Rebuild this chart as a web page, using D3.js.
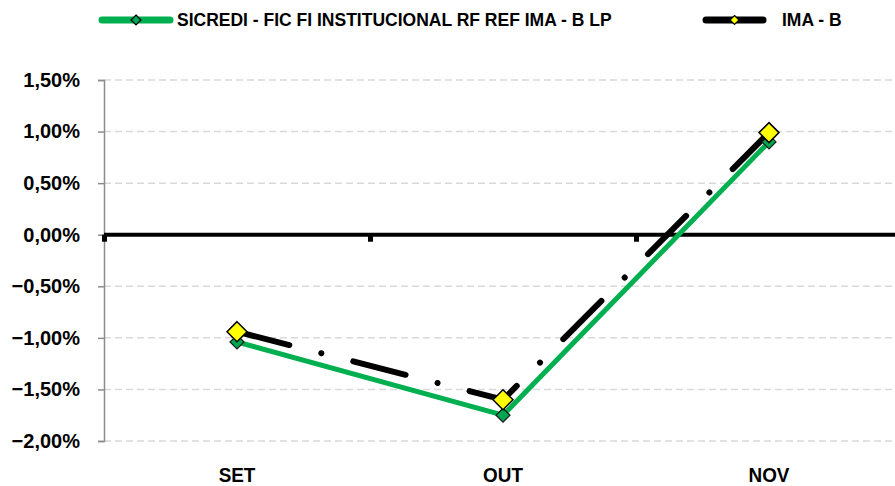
<!DOCTYPE html>
<html>
<head>
<meta charset="utf-8">
<script src="https://cdn.jsdelivr.net/npm/d3@7"></script>
<style>
  html, body { margin: 0; padding: 0; background: #fff; }
  svg { display: block; font-family: "Liberation Sans", Arial, sans-serif; font-weight: bold; }
</style>
</head>
<body>
<svg id="chart" width="895" height="486"></svg>
<script>
// data
const months = ['SET', 'OUT', 'NOV'];
const fundValues = [-1.04, -1.75, 0.90];   // SICREDI - FIC FI INSTITUCIONAL RF REF IMA - B LP
const imabValues = [-0.94, -1.60, 0.99];   // IMA - B
const yTicks = [-2, -1.5, -1, -0.5, 0, 0.5, 1, 1.5];
const seriesNames = ['SICREDI - FIC FI INSTITUCIONAL RF REF IMA - B LP', 'IMA - B'];

const svg = d3.select('#chart');
const W = 895;

const x = d3.scaleBand().domain(months).range([104, 902]);
const y = d3.scaleLinear().domain([-2, 1.5]).range([441, 80]);
const fmt = v => d3.format('.2f')(v).replace('.', ',') + '%';

// gridlines
svg.append('g')
  .selectAll('line')
  .data(yTicks.filter(d => d !== 0))
  .join('line')
  .attr('x1', 104).attr('x2', W)
  .attr('y1', d => y(d)).attr('y2', d => y(d))
  .attr('stroke', '#d9d9d9').attr('stroke-width', 1.5)
  .attr('stroke-dasharray', '7,4');

// y axis
const yAxis = svg.append('g')
  .attr('transform', 'translate(104,0)')
  .call(d3.axisLeft(y).tickValues(yTicks).tickFormat(fmt).tickSize(6).tickPadding(18));
yAxis.select('.domain').attr('stroke', '#8c8c8c').attr('stroke-width', 1.5);
yAxis.selectAll('.tick line').attr('stroke', '#8c8c8c').attr('stroke-width', 1.5);
yAxis.selectAll('.tick text')
  .attr('font-size', 20).attr('font-family', '"Liberation Sans", Arial, sans-serif')
  .attr('font-weight', 'bold').attr('fill', '#000');

// zero line with category ticks
svg.append('line')
  .attr('x1', 104).attr('x2', W)
  .attr('y1', y(0)).attr('y2', y(0))
  .attr('stroke', '#000').attr('stroke-width', 4);
svg.append('g')
  .selectAll('rect')
  .data(months)
  .join('rect')
  .attr('x', d => x(d) - 2)
  .attr('y', y(0))
  .attr('width', 5).attr('height', 7)
  .attr('fill', '#000');

// category labels
svg.append('g')
  .selectAll('text')
  .data(months)
  .join('text')
  .attr('transform', d => `translate(${x(d) + x.bandwidth() / 2},482) scale(0.9,1)`)
  .attr('text-anchor', 'middle')
  .attr('font-size', 21)
  .text(d => d);

const cx = d => x(d) + x.bandwidth() / 2;
const line = d3.line().x(d => cx(d.m)).y(d => y(d.v));
const fundPts = months.map((m, i) => ({ m, v: fundValues[i] }));
const imabPts = months.map((m, i) => ({ m, v: imabValues[i] }));
const diamond = r => `M0,${-r}L${r},0L0,${r}L${-r},0Z`;

// green series
svg.append('path')
  .datum(fundPts)
  .attr('d', line)
  .attr('fill', 'none')
  .attr('stroke', '#00b050').attr('stroke-width', 5)
  .attr('stroke-linejoin', 'round');

// black series, long dash-dot
svg.append('path')
  .datum(imabPts)
  .attr('d', line)
  .attr('fill', 'none')
  .attr('stroke', '#000').attr('stroke-width', 6)
  .attr('stroke-linecap', 'round')
  .attr('stroke-dasharray', '54,33,0.01,33');

svg.append('g')
  .selectAll('path')
  .data(fundPts)
  .join('path')
  .attr('transform', d => `translate(${cx(d.m)},${y(d.v)})`)
  .attr('d', diamond(7))
  .attr('fill', '#00a651').attr('stroke', '#1b1b1b').attr('stroke-width', 1.2);

svg.append('g')
  .selectAll('path')
  .data(imabPts)
  .join('path')
  .attr('transform', d => `translate(${cx(d.m)},${y(d.v)})`)
  .attr('d', diamond(10))
  .attr('fill', '#ffff00').attr('stroke', '#000').attr('stroke-width', 1.5);

// legend
const legend = svg.append('g');
const legendItems = [
  { name: seriesNames[0], x1: 102, x2: 170, tx: 177, color: '#00b050', mark: '#00a651', r: 5 },
  { name: seriesNames[1], x1: 706, x2: 763, tx: 782, color: '#000', mark: '#ffff00', r: 4.5 }
];
legendItems.forEach(d => {
  legend.append('line')
    .attr('x1', d.x1).attr('x2', d.x2).attr('y1', 20).attr('y2', 20)
    .attr('stroke', d.color).attr('stroke-width', 7).attr('stroke-linecap', 'round');
  legend.append('path')
    .attr('transform', `translate(${(d.x1 + d.x2) / 2},20)`)
    .attr('d', diamond(d.r))
    .attr('fill', d.mark).attr('stroke', '#000').attr('stroke-width', 1.2);
  legend.append('text')
    .attr('x', d.tx).attr('y', 26)
    .attr('font-size', 17.5)
    .text(d.name);
});
</script>
</body>
</html>
